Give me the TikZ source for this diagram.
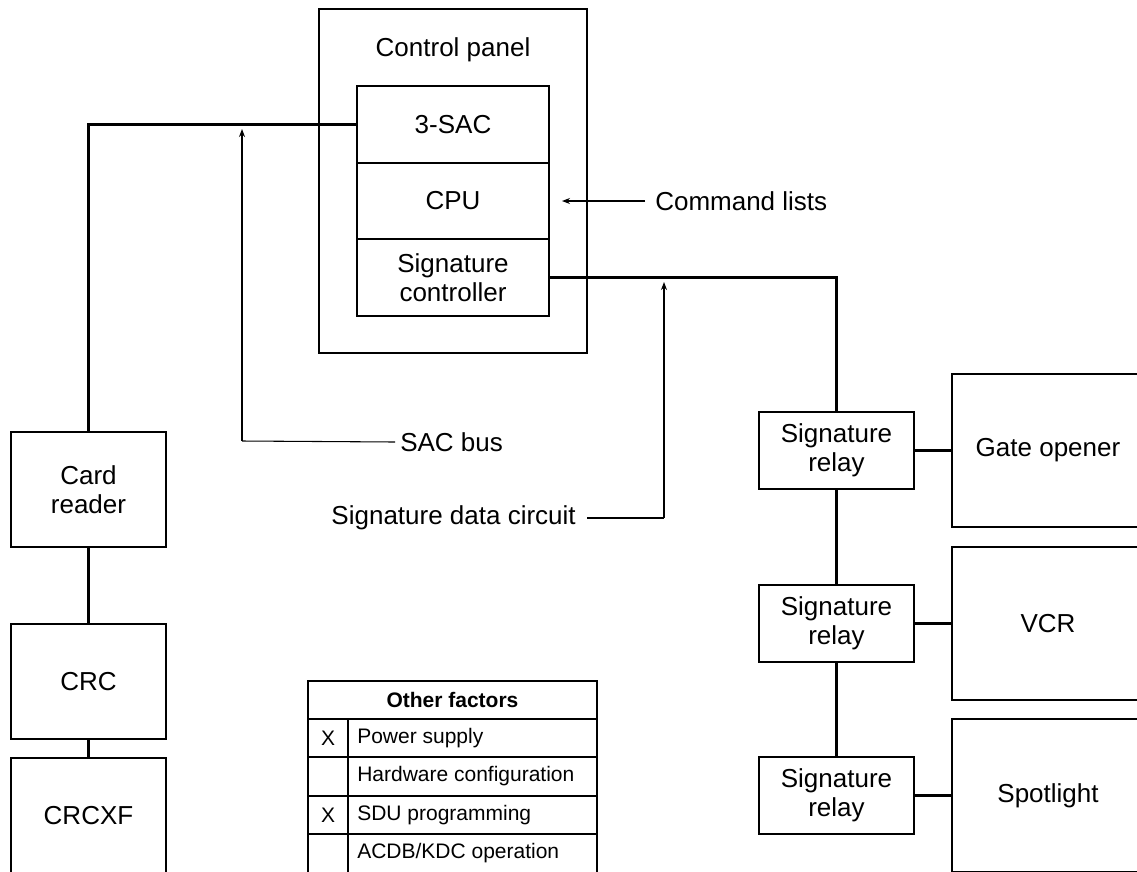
\documentclass[tikz,border=0pt]{standalone}
\usepackage{fontspec}
\setmainfont{Liberation Sans}
\usetikzlibrary{arrows.meta}
\begin{document}
\begin{tikzpicture}[x=0.75pt,y=-0.75pt,
  box/.style={draw, line width=1.6pt, inner sep=0pt, align=center, font=\fontsize{19.5}{21.5}\selectfont},
  link/.style={line width=1.6pt},
  ann/.style={line width=0.8pt},
  annv/.style={line width=1.4pt},
  lbl/.style={inner sep=0pt, font=\fontsize{19.5}{21.5}\selectfont},
  tlbl/.style={inner sep=0pt, font=\fontsize{15.75}{18}\selectfont},
  tline/.style={line width=1.6pt},
  arr/.style={-{Stealth[length=6pt,width=4.5pt]}}
]
\useasboundingbox (0,0) rectangle (1137,871);
\clip (0,0) rectangle (1137,871);
% control panel
\node[box, minimum width=201pt, minimum height=258pt] (panel) at (453,181) {};
\node[lbl] (paneltitle) at (453,50) {Control panel};
\node[box, minimum width=144pt, minimum height=57.5pt] (sac) at (453,124.5) {3-SAC};
\node[box, minimum width=144pt, minimum height=57.5pt] (cpu) at (453,201) {CPU};
\node[box, minimum width=144pt, minimum height=57.5pt] (sig) at (453,277.5) {Signature\\controller};
% left column
\node[box, minimum width=116.25pt, minimum height=86.25pt] (card) at (88.5,489.5) {Card\\reader};
\node[box, minimum width=116.25pt, minimum height=86.25pt] (crc) at (88.5,681.5) {CRC};
\node[box, minimum width=116.25pt, minimum height=86.25pt] (crcxf) at (88.5,815.5) {CRCXF};
% relays
\node[box, minimum width=116.25pt, minimum height=57.75pt] (r1) at (836.5,450.5) {Signature\\relay};
\node[box, minimum width=116.25pt, minimum height=57.75pt] (r2) at (836.5,623.5) {Signature\\relay};
\node[box, minimum width=116.25pt, minimum height=57.75pt] (r3) at (836.5,795.5) {Signature\\relay};
\node[box, minimum width=144pt, minimum height=114.75pt] (gate) at (1048,450.5) {Gate opener};
\node[box, minimum width=144pt, minimum height=114.75pt] (vcr) at (1048,623.5) {VCR};
\node[box, minimum width=144pt, minimum height=114.75pt] (spot) at (1048,795.5) {Spotlight};
% connectors
\draw[link] (sac.west) -| (card.north);
\draw[link] (card.south) -- (crc.north);
\draw[link] (crc.south) -- (crcxf.north);
\draw[link] (sig.east) -| (r1.north);
\draw[link] (r1.south) -- (r2.north);
\draw[link] (r2.south) -- (r3.north);
\draw[link] (r1.east) -- (gate.west);
\draw[link] (r2.east) -- (vcr.west);
\draw[link] (r3.east) -- (spot.west);
% annotations
\node[lbl, anchor=west] (sacbus) at (400,442) {SAC bus};
\coordinate (sacc) at (242,441);
\coordinate (sact) at (242,129);
\draw[ann] ([xshift=-3.75pt]sacbus.west) -- (sacc);
\draw[annv, arr] (sacc) -- (sact);
\node[lbl, anchor=east] (sdc) at (576,518) {Signature data circuit};
\coordinate (sdcc) at (664,518);
\coordinate (sdct) at (664,282);
\draw[ann] ([xshift=8.25pt]sdc.east) -- (sdcc);
\draw[annv, arr] (sdcc) -- (sdct);
\node[lbl, anchor=west] (cmd) at (655,201) {Command lists};
\coordinate (cmdt) at (562,201);
\draw[ann, arr] ([xshift=-7.5pt]cmd.west) -- (cmdt);
% table
\draw[tline] (308,872) -- (308,681) -- (597,681) -- (597,872);
\draw[tline] (308,719) -- (597,719);
\draw[tline] (308,757) -- (597,757);
\draw[tline] (308,796) -- (597,796);
\draw[tline] (308,834) -- (597,834);
\draw[tline] (348,719) -- (348,872);
\node[tlbl, font=\fontsize{15.75}{18}\selectfont\bfseries] (thead) at (452.5,700) {Other factors};
\node[tlbl] (x1) at (328,738) {X};
\node[tlbl] (x3) at (328,815) {X};
\node[tlbl, anchor=west] (t1) at (357,738) {Power supply};
\node[tlbl, anchor=west] (t2) at (357,776.5) {Hardware configuration};
\node[tlbl, anchor=west] (t3) at (357,815) {SDU programming};
\node[tlbl, anchor=west] (t4) at (357,853) {ACDB/KDC operation};
\end{tikzpicture}
\end{document}
